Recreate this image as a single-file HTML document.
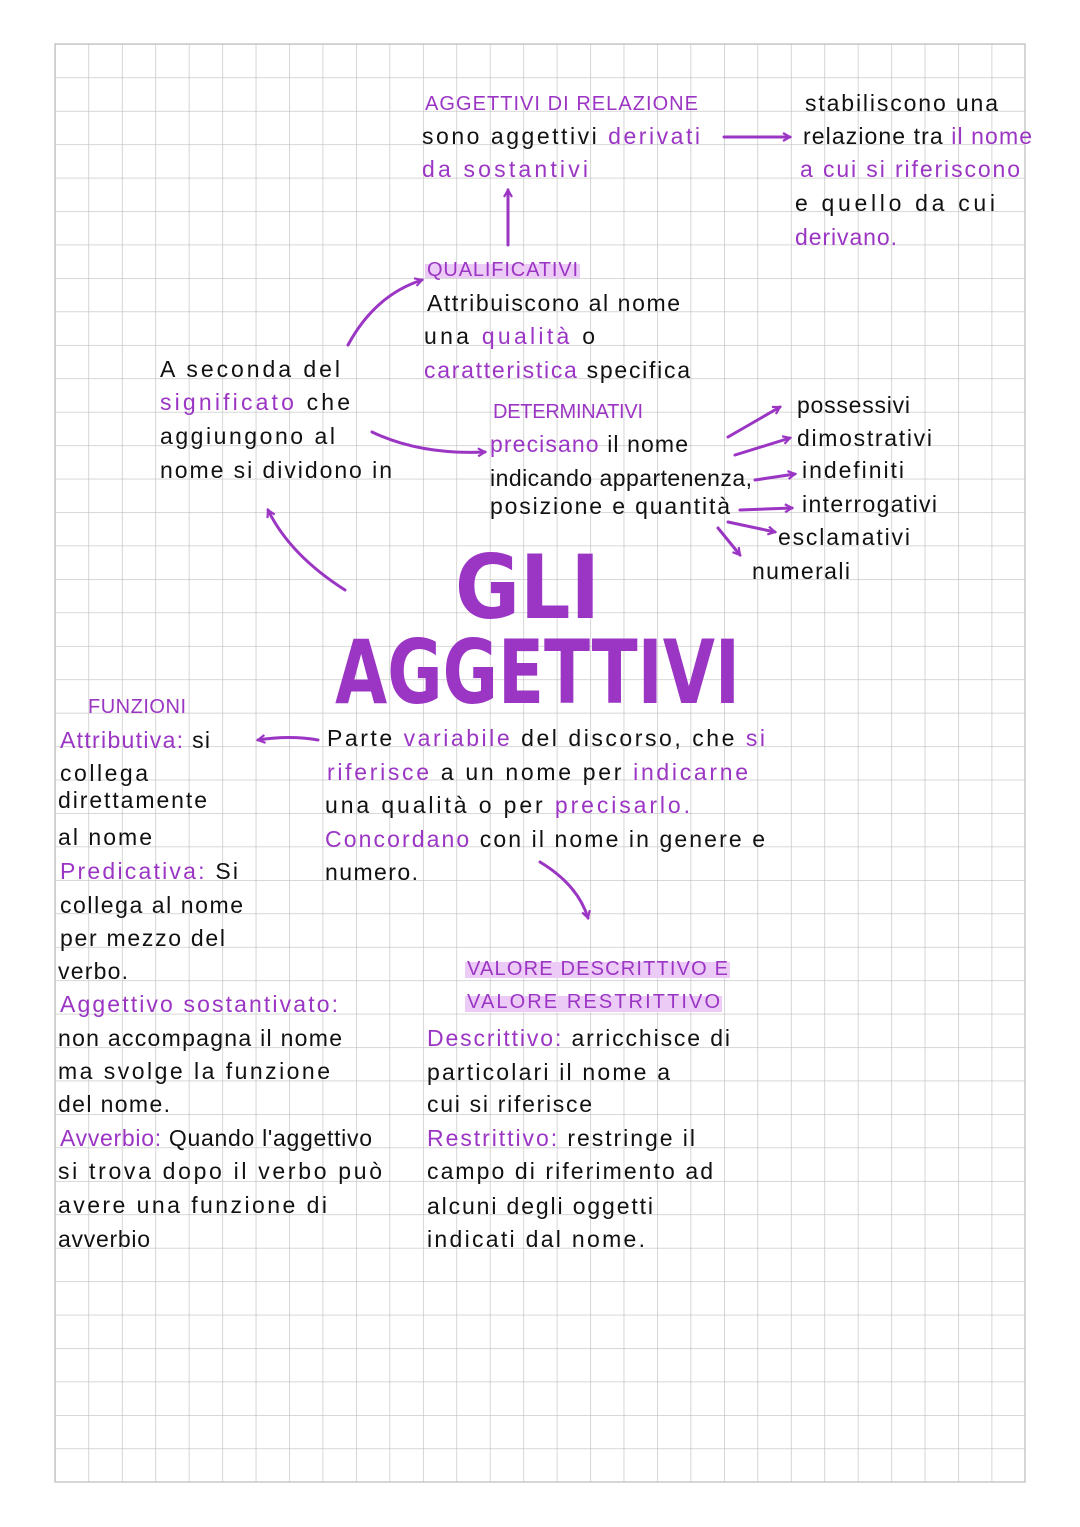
<!DOCTYPE html>
<html><head><meta charset="utf-8"><style>
html,body{margin:0;padding:0;background:#fff;}
svg{display:block;}
text{font-family:"Liberation Sans",sans-serif;font-size:23px;fill:#111;}
.p{fill:#9b35c4;}
.c{font-size:20px;}
</style></head><body>
<svg width="1080" height="1527" viewBox="0 0 1080 1527" xmlns="http://www.w3.org/2000/svg">
<defs>
<pattern id="g" x="55" y="44" width="33.45" height="33.44" patternUnits="userSpaceOnUse">
<path d="M0 0 H33.45 M0 0 V33.44" stroke="#c0c0c0" stroke-width="1.3" fill="none"/>
</pattern>
<marker id="a" markerWidth="10" markerHeight="10" refX="8" refY="5" orient="auto" markerUnits="userSpaceOnUse">
<path d="M1 1 L8 5 L1 9" stroke="#9b35c4" stroke-width="2.2" fill="none"/>
</marker>
</defs>
<rect x="55" y="44" width="970" height="1438" fill="url(#g)"/>
<rect x="55" y="44" width="970" height="1438" fill="none" stroke="#c0c0c0" stroke-width="1.3"/>

<rect x="425" y="264" width="155" height="14" fill="#eccbf7"/>
<rect x="465" y="962" width="265" height="16" fill="#eccbf7"/>
<rect x="465" y="996" width="257" height="16" fill="#eccbf7"/>

<g stroke="#9b35c4" stroke-width="3" fill="none" marker-end="url(#a)" stroke-linecap="round">
<path d="M724 137 L790 137"/>
<path d="M508 245 L508 190"/>
<path d="M348 345 Q375 295 422 280"/>
<path d="M372 432 Q420 455 485 452"/>
<path d="M728 437 L780 407"/>
<path d="M735 455 L790 438"/>
<path d="M755 480 L795 474"/>
<path d="M740 510 L792 508"/>
<path d="M728 522 L775 532"/>
<path d="M718 528 L740 555"/>
<path d="M345 590 Q290 555 268 510"/>
<path d="M318 740 Q290 735 258 740"/>
<path d="M540 862 Q578 885 588 918"/>
</g>

<text x="455" y="618" class="p" style="font-size:88px;font-weight:bold;font-family:'DejaVu Sans',sans-serif" textLength="145" lengthAdjust="spacingAndGlyphs">GLI</text>
<text x="335" y="703" class="p" style="font-size:88px;font-weight:bold;font-family:'DejaVu Sans',sans-serif" textLength="405" lengthAdjust="spacingAndGlyphs">AGGETTIVI</text>

<text x="425" y="110" class="p c" textLength="273">AGGETTIVI DI RELAZIONE</text>
<text x="422" y="144" textLength="278">sono aggettivi <tspan class="p">derivati</tspan></text>
<text x="422" y="177" class="p" textLength="166">da sostantivi</text>
<text x="805" y="111" textLength="193">stabiliscono una</text>
<text x="803" y="144" textLength="229">relazione tra <tspan class="p">il nome</tspan></text>
<text x="800" y="177" class="p" textLength="220">a cui si riferiscono</text>
<text x="795" y="211" textLength="200">e quello da cui</text>
<text x="795" y="245" class="p" textLength="102">derivano.</text>

<text x="427" y="276" class="p c" textLength="151">QUALIFICATIVI</text>
<text x="427" y="311" textLength="253">Attribuiscono al nome</text>
<text x="424" y="344" textLength="171">una <tspan class="p">qualità</tspan> o</text>
<text x="424" y="378" textLength="266"><tspan class="p">caratteristica</tspan> specifica</text>

<text x="160" y="377" textLength="180">A seconda del</text>
<text x="160" y="410" textLength="190"><tspan class="p">significato</tspan> che</text>
<text x="160" y="444" textLength="175">aggiungono al</text>
<text x="160" y="478" textLength="232">nome si dividono in</text>

<text x="493" y="418" class="p c" textLength="150">DETERMINATIVI</text>
<text x="490" y="452" textLength="198"><tspan class="p">precisano</tspan> il nome</text>
<text x="490" y="486" textLength="262">indicando appartenenza,</text>
<text x="490" y="514" textLength="240">posizione e quantità</text>

<text x="797" y="413" textLength="113">possessivi</text>
<text x="797" y="446" textLength="135">dimostrativi</text>
<text x="802" y="478" textLength="102">indefiniti</text>
<text x="802" y="512" textLength="135">interrogativi</text>
<text x="778" y="545" textLength="132">esclamativi</text>
<text x="752" y="579" textLength="98">numerali</text>

<text x="88" y="713" class="p c" textLength="98">FUNZIONI</text>
<text x="60" y="748" textLength="150"><tspan class="p">Attributiva:</tspan> si</text>
<text x="60" y="781" textLength="88">collega</text>
<text x="58" y="808" textLength="149">direttamente</text>
<text x="58" y="845" textLength="94">al nome</text>
<text x="60" y="879" textLength="178"><tspan class="p">Predicativa:</tspan> Si</text>
<text x="60" y="913" textLength="183">collega al nome</text>
<text x="60" y="946" textLength="165">per mezzo del</text>
<text x="58" y="979" textLength="70">verbo.</text>
<text x="60" y="1012" class="p" textLength="278">Aggettivo sostantivato:</text>
<text x="58" y="1046" textLength="284">non accompagna il nome</text>
<text x="58" y="1079" textLength="272">ma svolge la funzione</text>
<text x="58" y="1112" textLength="112">del nome.</text>
<text x="60" y="1146" textLength="312"><tspan class="p">Avverbio:</tspan> Quando l'aggettivo</text>
<text x="58" y="1179" textLength="324">si trova dopo il verbo può</text>
<text x="58" y="1213" textLength="269">avere una funzione di</text>
<text x="58" y="1247" textLength="92">avverbio</text>

<text x="327" y="746" textLength="438">Parte <tspan class="p">variabile</tspan> del discorso, che <tspan class="p">si</tspan></text>
<text x="327" y="780" textLength="421"><tspan class="p">riferisce</tspan> a un nome per <tspan class="p">indicarne</tspan></text>
<text x="325" y="813" textLength="365">una qualità o per <tspan class="p">precisarlo.</tspan></text>
<text x="325" y="847" textLength="440"><tspan class="p">Concordano</tspan> con il nome in genere e</text>
<text x="325" y="880" textLength="93">numero.</text>

<text x="467" y="975" class="p c" textLength="261">VALORE DESCRITTIVO E</text>
<text x="467" y="1008" class="p c" textLength="253">VALORE RESTRITTIVO</text>
<text x="427" y="1046" textLength="303"><tspan class="p">Descrittivo:</tspan> arricchisce di</text>
<text x="427" y="1080" textLength="243">particolari il nome a</text>
<text x="427" y="1112" textLength="165">cui si riferisce</text>
<text x="427" y="1146" textLength="268"><tspan class="p">Restrittivo:</tspan> restringe il</text>
<text x="427" y="1179" textLength="286">campo di riferimento ad</text>
<text x="427" y="1214" textLength="226">alcuni degli oggetti</text>
<text x="427" y="1247" textLength="218">indicati dal nome.</text>
</svg>
</body></html>
